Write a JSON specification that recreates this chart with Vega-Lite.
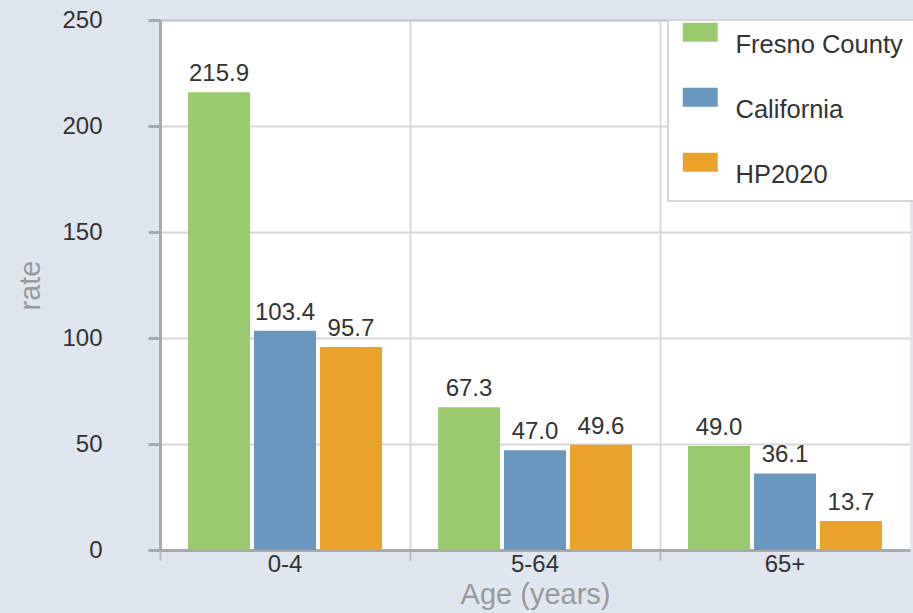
{
  "$schema": "https://vega.github.io/schema/vega-lite/v6.json",
  "width": 750,
  "height": 530,
  "autosize": {"type": "none"},
  "padding": {"left": 160, "top": 20, "right": 3, "bottom": 63},
  "background": "#dfe6ef",
  "config": {
    "view": {"fill": "white", "stroke": null},
    "font": "Liberation Sans",
    "legend": {"fillColor": "white", "strokeColor": "#d6d6d6", "strokeWidth": 2}
  },
  "data": {
    "values": [
      {"age": "0-4", "series": "Fresno County", "rate": 215.9},
      {"age": "0-4", "series": "California", "rate": 103.4},
      {"age": "0-4", "series": "HP2020", "rate": 95.7},
      {"age": "5-64", "series": "Fresno County", "rate": 67.3},
      {"age": "5-64", "series": "California", "rate": 47.0},
      {"age": "5-64", "series": "HP2020", "rate": 49.6},
      {"age": "65+", "series": "Fresno County", "rate": 49.0},
      {"age": "65+", "series": "California", "rate": 36.1},
      {"age": "65+", "series": "HP2020", "rate": 13.7}
    ]
  },
  "encoding": {
    "x": {
      "field": "age", "type": "nominal", "sort": ["0-4", "5-64", "65+"],
      "scale": {"paddingInner": 0, "paddingOuter": 0},
      "axis": {
        "bandPosition": 0, "labelAngle": 0,
        "grid": true, "gridColor": "#d8d8d8", "gridWidth": 2,
        "ticks": true, "tickSize": 10, "tickWidth": 2, "tickColor": "#bbbbbb",
        "domain": true, "domainColor": "#aaaaaa", "domainWidth": 3,
        "labelFontSize": 24, "labelColor": "#333333", "labelPadding": -8,
        "title": "Age  (years)", "titleFontSize": 29, "titleFontWeight": "normal",
        "titleColor": "#999999", "titlePadding": 4
      }
    },
    "xOffset": {
      "field": "series", "type": "nominal", "sort": ["Fresno County", "California", "HP2020"],
      "scale": {"paddingInner": 0.06, "paddingOuter": 0.425}
    },
    "y": {
      "field": "rate", "type": "quantitative",
      "scale": {"domain": [0, 250], "nice": false},
      "axis": {
        "values": [0, 50, 100, 150, 200, 250],
        "grid": true, "gridWidth": 2,
        "gridColor": {"condition": {"test": "datum.value == 250", "value": "#bfc3c7"}, "value": "#d8d8d8"},
        "ticks": true, "tickSize": 12, "tickWidth": 3, "tickColor": "#aaaaaa",
        "domain": true, "domainColor": "#aaaaaa", "domainWidth": 3,
        "labelFontSize": 24, "labelColor": "#333333", "labelPadding": 46,
        "title": "rate", "titleFontSize": 29, "titleFontWeight": "normal",
        "titleColor": "#999999", "titlePadding": 16
      }
    }
  },
  "layer": [
    {
      "mark": {"type": "bar"},
      "encoding": {
        "color": {
          "field": "series", "type": "nominal", "sort": ["Fresno County", "California", "HP2020"],
          "scale": {"domain": ["Fresno County", "California", "HP2020"], "range": ["#9aca6e", "#6897bf", "#eaa22a"]},
          "legend": {
            "title": null, "orient": "none", "legendX": 508, "legendY": 0,
            "padding": 12, "symbolSize": 400, "symbolType": "M-1,-2.2H2.5V-0.3H-1Z",
            "symbolStrokeWidth": 0, "labelOffset": 30, "labelFontSize": 25.5,
            "labelColor": "#333333", "rowPadding": 28, "labelLimit": 400
          }
        }
      }
    },
    {
      "mark": {"type": "text", "baseline": "alphabetic", "dy": -11, "fontSize": 24, "color": "#333333"},
      "encoding": {
        "text": {"field": "rate", "type": "quantitative", "format": ".1f"}
      }
    }
  ]
}
